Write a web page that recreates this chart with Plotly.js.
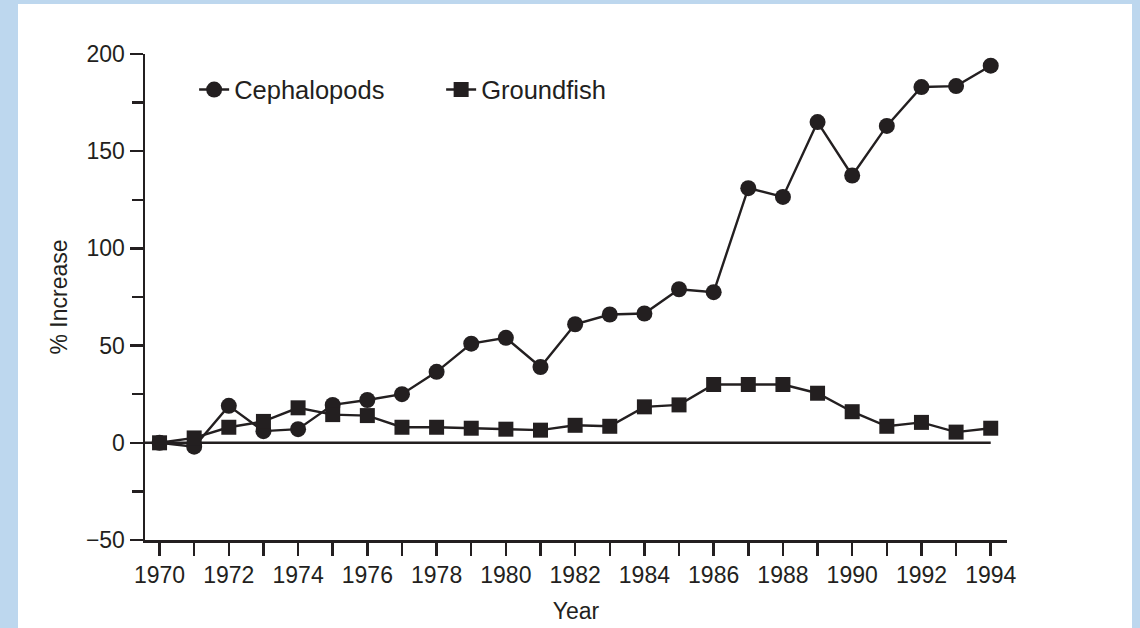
<!DOCTYPE html>
<html>
<head>
<meta charset="utf-8">
<script src="https://cdn.plot.ly/plotly-3.0.1.min.js"></script>
<style>
  html, body { margin: 0; padding: 0; background: #bdd7ee; width: 1140px; height: 628px; overflow: hidden; }
  #chart { position: absolute; left: 18px; top: 4px; width: 1114px; height: 624px; background: #ffffff; }
</style>
</head>
<body>
<div id="chart"></div>
<script>
const years = [1970,1971,1972,1973,1974,1975,1976,1977,1978,1979,1980,1981,1982,1983,1984,1985,1986,1987,1988,1989,1990,1991,1992,1993,1994];
const cephalopods = [0,-2,19,6,7,19.5,22,25,36.5,51,54,39,61,66,66.5,79,77.5,131,126.5,165,137.5,163,183,183.5,194];
const groundfish = [0,2.5,8,11,18,14.5,14,8,8,7.5,7,6.5,9,8.5,18.5,19.5,30,30,30,25.5,16,8.5,10.5,5.5,7.5];
const seriesNames = ['Cephalopods','Groundfish'];
const xTickVals = [1970,1972,1974,1976,1978,1980,1982,1984,1986,1988,1990,1992,1994];
const yTickVals = [-50,0,50,100,150,200];

const ink = '#231f20';
const fontFam = 'Liberation Sans, Arial, Helvetica, sans-serif';

const traces = [
  {
    x: years, y: cephalopods, name: seriesNames[0], type: 'scatter', mode: 'lines+markers',
    line: {color: ink, width: 2.4},
    marker: {symbol: 'circle', size: 16, color: ink}
  },
  {
    x: years, y: groundfish, name: seriesNames[1], type: 'scatter', mode: 'lines+markers',
    line: {color: ink, width: 2.4},
    marker: {symbol: 'square', size: 15, color: ink}
  }
];

const xRange = [1969.58, 1994.47];

const layout = {
  width: 1114, height: 624,
  paper_bgcolor: '#ffffff', plot_bgcolor: '#ffffff',
  margin: {l: 127, r: 125, t: 50, b: 88},
  font: {family: fontFam, color: ink, size: 23},
  showlegend: true,
  legend: {
    orientation: 'h', x: 0.057, xanchor: 'left', y: 0.926, yanchor: 'middle',
    font: {family: fontFam, size: 25.5, color: ink},
    bgcolor: 'rgba(0,0,0,0)', entrywidth: 202, entrywidthmode: 'pixels'
  },
  xaxis: {
    range: xRange, showgrid: false, zeroline: false,
    showline: true, linecolor: ink, linewidth: 2.5,
    ticks: 'outside', ticklen: 13, tickwidth: 2.5, tickcolor: ink,
    tickmode: 'array', tickvals: xTickVals, ticktext: xTickVals.map(String),
    minor: {dtick: 1, tick0: 1970, ticks: 'outside', ticklen: 13, tickwidth: 2.5, tickcolor: ink, showgrid: false},
    tickfont: {family: fontFam, size: 23, color: ink},
    title: {text: 'Year', font: {family: fontFam, size: 23, color: ink}, standoff: 16}
  },
  yaxis: {
    range: [-50, 200], showgrid: false, zeroline: false,
    showline: true, linecolor: ink, linewidth: 2.5,
    ticks: 'outside', ticklen: 13, tickwidth: 2.5, tickcolor: ink,
    tickmode: 'array', tickvals: yTickVals,
    minor: {dtick: 25, tick0: 0, ticks: 'outside', ticklen: 11, tickwidth: 2.5, tickcolor: ink, showgrid: false},
    tickfont: {family: fontFam, size: 23, color: ink},
    title: {text: '% Increase', font: {family: fontFam, size: 23, color: ink}, standoff: 12}
  },
  shapes: [
    {type: 'line', xref: 'x', yref: 'y', x0: xRange[0], x1: years[years.length - 1], y0: 0, y1: 0,
     line: {color: ink, width: 2.5}, layer: 'below'}
  ]
};

Plotly.newPlot('chart', traces, layout, {displayModeBar: false, staticPlot: true});
</script>
</body>
</html>
